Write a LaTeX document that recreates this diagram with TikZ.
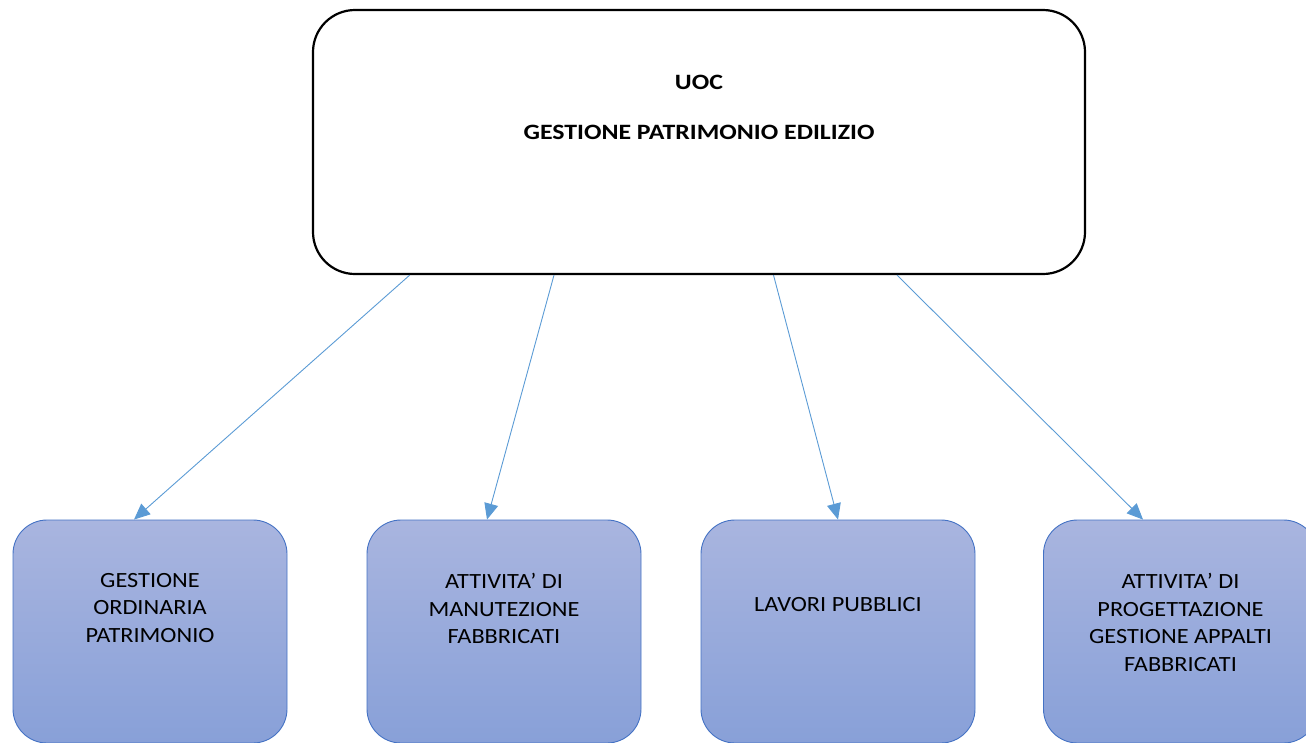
\documentclass[tikz,border=0pt]{standalone}
\usepackage{fontspec}
\setmainfont{Carlito}[FakeStretch=1.12, BoldFeatures={FakeStretch=1.18}]
\usetikzlibrary{arrows.meta}
\definecolor{boxtop}{HTML}{A9B5DF}
\definecolor{boxbot}{HTML}{88A0D8}
\definecolor{boxline}{HTML}{4472C4}
\definecolor{arrowc}{HTML}{5B9BD5}
\tikzset{
  topbox/.style={draw=black, line width=2.2pt, rounded corners=42pt, fill=white,
    minimum width=772pt, minimum height=264pt, inner sep=0pt},
  subbox/.style={draw=boxline, line width=0.9pt, rounded corners=34pt,
    top color=boxtop, bottom color=boxbot,
    minimum width=274pt, minimum height=223pt, inner sep=0pt},
  toptext/.style={font=\fontsize{21.9}{27.5}\selectfont\bfseries, inner sep=0pt, anchor=north},
  subtext/.style={font=\fontsize{21.7}{27.5}\selectfont, align=center, inner sep=0pt, anchor=north},
  arr/.style={draw=arrowc, line width=0.9pt, -{Triangle[length=16pt,width=14pt]}}
}
\begin{document}
\begin{tikzpicture}[x=1pt,y=-1pt]
\clip (0,0) rectangle (1306,742);
\node[topbox] (top) at (699,142) {};
\node[toptext] (uoc) at (699,75) {UOC};
\node[toptext] (gpe) at (699,125) {GESTIONE PATRIMONIO EDILIZIO};

\node[subbox] (b1) at (150,631.5) {};
\node[subbox] (b2) at (504,631.5) {};
\node[subbox] (b3) at (838,631.5) {};
\node[subbox] (b4) at (1180.5,631.5) {};

\node[subtext] (t1) at (150,573) {GESTIONE\\ORDINARIA\\PATRIMONIO};
\node[subtext] (t2) at (504,573) {ATTIVITA’ DI\\MANUTEZIONE\\FABBRICATI};
\node[subtext] (t3) at (838,597) {LAVORI PUBBLICI};
\node[subtext] (t4) at (1180.5,573) {ATTIVITA’ DI\\PROGETTAZIONE\\GESTIONE APPALTI\\FABBRICATI};

\draw[arr] ([xshift=-289.3pt]top.south) -- ([xshift=-16pt]b1.north);
\draw[arr] ([xshift=-145pt]top.south) -- ([xshift=-17pt]b2.north);
\draw[arr] ([xshift=74.5pt]top.south) -- (b3.north);
\draw[arr] ([xshift=198pt]top.south) -- ([xshift=-37.5pt]b4.north);
\end{tikzpicture}
\end{document}
